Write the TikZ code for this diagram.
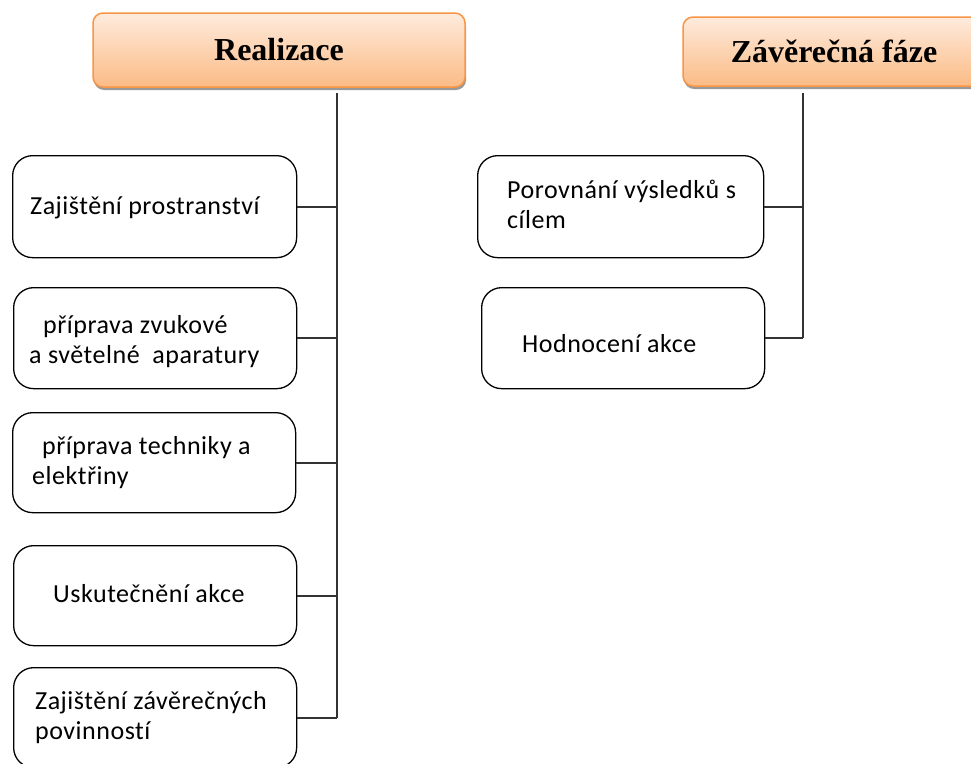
\documentclass[tikz,border=0pt]{standalone}
\usepackage{fontspec}
\setmainfont{Liberation Serif}
\newfontfamily\boxfont[LetterSpace=2,Ligatures={NoCommon}]{Carlito}
\usetikzlibrary{shadows}
\definecolor{hdrtop}{HTML}{FEEBDD}
\definecolor{hdrbot}{HTML}{FBBB85}
\definecolor{hdrline}{HTML}{F79646}
\definecolor{conn}{HTML}{333333}
\tikzset{
  header/.style={rounded corners=10pt, draw=hdrline, line width=1.5pt,
    top color=hdrtop, bottom color=hdrbot,
    drop shadow={shadow xshift=1pt, shadow yshift=-3pt, fill=black!40, opacity=1},
    font=\fontsize{32}{36}\selectfont\bfseries, inner sep=0pt},
  box/.style={draw=black, line width=1.3pt, rounded corners=20pt,
    anchor=north west, inner sep=0pt, minimum width=#1},
  txt/.style={anchor=west, align=left, inner sep=0pt,
    font=\boxfont\fontsize{26}{30}\selectfont},
  conn/.style={draw=conn, line width=1.8pt}
}
\begin{document}
\begin{tikzpicture}[x=1pt,y=-1pt]
\clip (0,0) rectangle (971,763);
\fill[white] (0,0) rectangle (971,763);
% headers
\node[header, minimum width=372pt, minimum height=74pt] (R) at (279,50) {Realizace};
\node[header, minimum width=302pt, minimum height=69pt] (Z) at (834,51.5) {Závěrečná fáze};
% left boxes
\node[box=284pt, minimum height=102pt] (b1) at (12,155) {};
\node[box=283pt, minimum height=101pt] (b2) at (13,287) {};
\node[box=283pt, minimum height=100pt] (b3) at (12,412) {};
\node[box=283pt, minimum height=100pt] (b4) at (13,545) {};
\node[box=283pt, minimum height=100pt] (b5) at (13,667) {};
% right boxes
\node[box=286pt, minimum height=102pt] (a1) at (477,155) {};
\node[box=283pt, minimum height=101pt] (a2) at (481,287) {};
% texts
\node[txt] (t1) at ([xshift=18pt,yshift=-1pt]b1.west) {Zajištění prostranství};
\node[txt] (t2) at ([xshift=16pt,yshift=-3pt]b2.west) {\hspace*{14pt}příprava zvukové\\a světelné \ aparatury};
\node[txt] (t3) at ([xshift=20pt]b3.west) {\hspace*{10pt}příprava techniky a\\elektřiny};
\node[txt] (t4) at ([xshift=40pt,yshift=2pt]b4.west) {Uskutečnění akce};
\node[txt] (t5) at ([xshift=22pt]b5.west) {Zajištění závěrečných\\povinností};
\node[txt] (t6) at ([xshift=30pt,yshift=2pt]a1.west) {Porovnání výsledků s\\cílem};
\node[txt] (t7) at ([xshift=41pt,yshift=-5pt]a2.west) {Hodnocení akce};
% connectors
\coordinate (rtop) at (337,93);
\coordinate (rbot) at (337,718);
\coordinate (ztop) at (803,93);
\coordinate (zbot) at (803,338);
\draw[conn] (rtop) -- (rbot);
\draw[conn] (ztop) -- (zbot);
\foreach \b in {b1,b2,b3,b4,b5} {\draw[conn] (\b.east) -- (\b.east -| rtop);}
\foreach \b in {a1,a2} {\draw[conn] (\b.east) -- (\b.east -| ztop);}
\end{tikzpicture}
\end{document}
